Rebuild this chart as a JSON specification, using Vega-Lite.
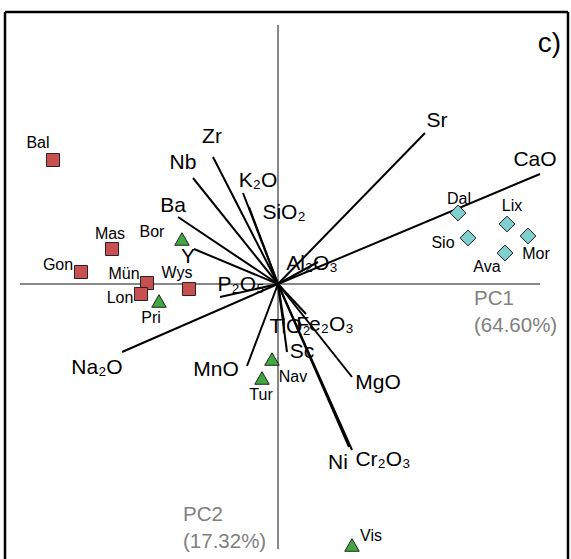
{
  "$schema": "https://vega.github.io/schema/vega-lite/v6.json",
  "width": 563,
  "height": 547,
  "autosize": "none",
  "padding": {"top": 12, "left": 5, "right": 3, "bottom": 0},
  "background": "white",
  "config": {"view": {"stroke": null}, "text": {"font": "Liberation Sans"}},
  "data": {"values": [{}]},
  "datasets": {
    "pcaxes": [
      {"axis": "PC1", "x1": -2.58, "x2": 2.62, "y1": 0, "y2": 0},
      {"axis": "PC2", "x1": 0, "x2": 0, "y1": 2.59, "y2": -2.65}
    ],
    "loadings": [
      {"var": "Sr", "x0": 0, "y0": 0, "pc1": 1.47, "pc2": 1.51, "lx": 1.59, "ly": 1.63},
      {"var": "CaO", "x0": 0, "y0": 0, "pc1": 2.62, "pc2": 1.10, "lx": 2.57, "ly": 1.24},
      {"var": "Zr", "x0": 0, "y0": 0, "pc1": -0.65, "pc2": 1.27, "lx": -0.66, "ly": 1.47},
      {"var": "Nb", "x0": 0, "y0": 0, "pc1": -0.85, "pc2": 1.06, "lx": -0.95, "ly": 1.21},
      {"var": "K₂O", "x0": 0, "y0": 0, "pc1": -0.35, "pc2": 0.91, "lx": -0.20, "ly": 1.03},
      {"var": "SiO₂", "x0": 0, "y0": 0, "pc1": -0.29, "pc2": 0.77, "lx": 0.06, "ly": 0.71},
      {"var": "Ba", "x0": 0, "y0": 0, "pc1": -1.00, "pc2": 0.67, "lx": -1.05, "ly": 0.78},
      {"var": "Y", "x0": 0, "y0": 0, "pc1": -0.84, "pc2": 0.35, "lx": -0.90, "ly": 0.27},
      {"var": "P₂O₅", "x0": 0, "y0": 0, "pc1": -0.58, "pc2": -0.13, "lx": -0.37, "ly": -0.01},
      {"var": "Al₂O₃", "x0": 0, "y0": 0, "pc1": 0.40, "pc2": 0.22, "lx": 0.34, "ly": 0.20},
      {"var": "Na₂O", "x0": 0, "y0": 0, "pc1": -1.56, "pc2": -0.68, "lx": -1.81, "ly": -0.84},
      {"var": "MnO", "x0": 0, "y0": 0, "pc1": -0.31, "pc2": -0.82, "lx": -0.62, "ly": -0.86},
      {"var": "TiO₂", "x0": 0, "y0": 0, "pc1": 0.06, "pc2": -0.38, "lx": 0.12, "ly": -0.43},
      {"var": "Fe₂O₃", "x0": 0, "y0": 0, "pc1": 0.28, "pc2": -0.30, "lx": 0.47, "ly": -0.41},
      {"var": "Sc", "x0": 0, "y0": 0, "pc1": 0.09, "pc2": -0.68, "lx": 0.24, "ly": -0.68},
      {"var": "MgO", "x0": 0, "y0": 0, "pc1": 0.74, "pc2": -0.93, "lx": 1.00, "ly": -0.99},
      {"var": "Cr₂O₃", "x0": 0, "y0": 0, "pc1": 0.74, "pc2": -1.66, "lx": 1.05, "ly": -1.76},
      {"var": "Ni", "x0": 0, "y0": 0, "pc1": 0.71, "pc2": -1.63, "lx": 0.60, "ly": -1.79}
    ],
    "samples": [
      {"site": "Bal", "group": "A", "pc1": -2.25, "pc2": 1.24, "lx": -2.40, "ly": 1.41},
      {"site": "Mas", "group": "A", "pc1": -1.66, "pc2": 0.35, "lx": -1.68, "ly": 0.50},
      {"site": "Gon", "group": "A", "pc1": -1.97, "pc2": 0.12, "lx": -2.20, "ly": 0.19},
      {"site": "Mün", "group": "A", "pc1": -1.31, "pc2": 0.01, "lx": -1.54, "ly": 0.10},
      {"site": "Lon", "group": "A", "pc1": -1.37, "pc2": -0.10, "lx": -1.58, "ly": -0.14},
      {"site": "Wys", "group": "A", "pc1": -0.89, "pc2": -0.05, "lx": -1.01, "ly": 0.11},
      {"site": "Bor", "group": "B", "pc1": -0.96, "pc2": 0.45, "lx": -1.26, "ly": 0.52},
      {"site": "Pri", "group": "B", "pc1": -1.19, "pc2": -0.17, "lx": -1.27, "ly": -0.34},
      {"site": "Nav", "group": "B", "pc1": -0.06, "pc2": -0.75, "lx": 0.15, "ly": -0.93},
      {"site": "Tur", "group": "B", "pc1": -0.16, "pc2": -0.94, "lx": -0.17, "ly": -1.11},
      {"site": "Vis", "group": "B", "pc1": 0.74, "pc2": -2.61, "lx": 0.93, "ly": -2.52},
      {"site": "Dal", "group": "C", "pc1": 1.80, "pc2": 0.71, "lx": 1.81, "ly": 0.85},
      {"site": "Lix", "group": "C", "pc1": 2.29, "pc2": 0.60, "lx": 2.34, "ly": 0.78},
      {"site": "Sio", "group": "C", "pc1": 1.90, "pc2": 0.46, "lx": 1.65, "ly": 0.41},
      {"site": "Mor", "group": "C", "pc1": 2.50, "pc2": 0.48, "lx": 2.58, "ly": 0.30},
      {"site": "Ava", "group": "C", "pc1": 2.27, "pc2": 0.31, "lx": 2.09, "ly": 0.17}
    ]
  },
  "layer": [
    {"mark": {"type": "rule", "color": "#000000", "strokeWidth": 2.5},
     "encoding": {
       "y": {"datum": 2.72, "type": "quantitative", "scale": {"domain": [-2.75, 2.72], "nice": false, "zero": false}, "axis": null}}},
    {"mark": {"type": "rule", "color": "#000000", "strokeWidth": 2.5},
     "encoding": {
       "x": {"datum": -2.73, "type": "quantitative", "scale": {"domain": [-2.73, 2.90], "nice": false, "zero": false}, "axis": null}}},
    {"mark": {"type": "rule", "color": "#000000", "strokeWidth": 2.5},
     "encoding": {
       "x": {"datum": 2.90, "type": "quantitative", "scale": {"domain": [-2.73, 2.90], "nice": false, "zero": false}, "axis": null}}},
    {"data": {"name": "pcaxes"},
     "mark": {"type": "rule", "color": "#888888", "strokeWidth": 2},
     "encoding": {
       "x": {"field": "x1", "type": "quantitative", "scale": {"domain": [-2.73, 2.90], "nice": false, "zero": false}, "axis": null},
       "x2": {"field": "x2"},
       "y": {"field": "y1", "type": "quantitative", "scale": {"domain": [-2.75, 2.72], "nice": false, "zero": false}, "axis": null},
       "y2": {"field": "y2"}}},
    {"data": {"name": "loadings"},
     "mark": {"type": "rule", "color": "#000000", "strokeWidth": 2},
     "encoding": {
       "x": {"field": "x0", "type": "quantitative", "scale": {"domain": [-2.73, 2.90], "nice": false, "zero": false}, "axis": null},
       "y": {"field": "y0", "type": "quantitative", "scale": {"domain": [-2.75, 2.72], "nice": false, "zero": false}, "axis": null},
       "x2": {"field": "pc1"}, "y2": {"field": "pc2"}}},
    {"data": {"name": "loadings"},
     "mark": {"type": "text", "fontSize": 21, "color": "#000000", "align": "center", "baseline": "middle"},
     "encoding": {
       "x": {"field": "lx", "type": "quantitative", "scale": {"domain": [-2.73, 2.90], "nice": false, "zero": false}, "axis": null},
       "y": {"field": "ly", "type": "quantitative", "scale": {"domain": [-2.75, 2.72], "nice": false, "zero": false}, "axis": null},
       "text": {"field": "var"}}},
    {"data": {"name": "samples"},
     "mark": {"type": "point", "filled": true, "stroke": "#222222", "strokeWidth": 1, "opacity": 1},
     "encoding": {
       "x": {"field": "pc1", "type": "quantitative", "scale": {"domain": [-2.73, 2.90], "nice": false, "zero": false}, "axis": null},
       "y": {"field": "pc2", "type": "quantitative", "scale": {"domain": [-2.75, 2.72], "nice": false, "zero": false}, "axis": null},
       "shape": {"field": "group", "type": "nominal", "scale": {"domain": ["A", "B", "C"], "range": ["square", "triangle-up", "diamond"]}, "legend": null},
       "fill": {"field": "group", "type": "nominal", "scale": {"domain": ["A", "B", "C"], "range": ["#c85050", "#40a840", "#80d0d0"]}, "legend": null},
       "size": {"field": "group", "type": "nominal", "scale": {"domain": ["A", "B", "C"], "range": [170, 250, 200]}, "legend": null}
     }},
    {"data": {"name": "samples"},
     "mark": {"type": "text", "fontSize": 16, "color": "#000000", "align": "center", "baseline": "middle"},
     "encoding": {
       "x": {"field": "lx", "type": "quantitative", "scale": {"domain": [-2.73, 2.90], "nice": false, "zero": false}, "axis": null},
       "y": {"field": "ly", "type": "quantitative", "scale": {"domain": [-2.75, 2.72], "nice": false, "zero": false}, "axis": null},
       "text": {"field": "site"}}},
    {"mark": {"type": "text", "fontSize": 20.5, "color": "#808080", "align": "left", "baseline": "alphabetic", "lineHeight": 27},
     "encoding": {
       "x": {"datum": 1.96, "type": "quantitative", "scale": {"domain": [-2.73, 2.90], "nice": false, "zero": false}, "axis": null},
       "y": {"datum": -0.21, "type": "quantitative", "scale": {"domain": [-2.75, 2.72], "nice": false, "zero": false}, "axis": null},
       "text": {"value": ["PC1", "(64.60%)"]}}},
    {"mark": {"type": "text", "fontSize": 20.5, "color": "#808080", "align": "left", "baseline": "alphabetic", "lineHeight": 27},
     "encoding": {
       "x": {"datum": -0.95, "type": "quantitative", "scale": {"domain": [-2.73, 2.90], "nice": false, "zero": false}, "axis": null},
       "y": {"datum": -2.37, "type": "quantitative", "scale": {"domain": [-2.75, 2.72], "nice": false, "zero": false}, "axis": null},
       "text": {"value": ["PC2", "(17.32%)"]}}},
    {"mark": {"type": "text", "fontSize": 28, "color": "#000000", "align": "right", "baseline": "alphabetic"},
     "encoding": {
       "x": {"datum": 2.83, "type": "quantitative", "scale": {"domain": [-2.73, 2.90], "nice": false, "zero": false}, "axis": null},
       "y": {"datum": 2.32, "type": "quantitative", "scale": {"domain": [-2.75, 2.72], "nice": false, "zero": false}, "axis": null},
       "text": {"value": "c)"}}}
  ]
}
